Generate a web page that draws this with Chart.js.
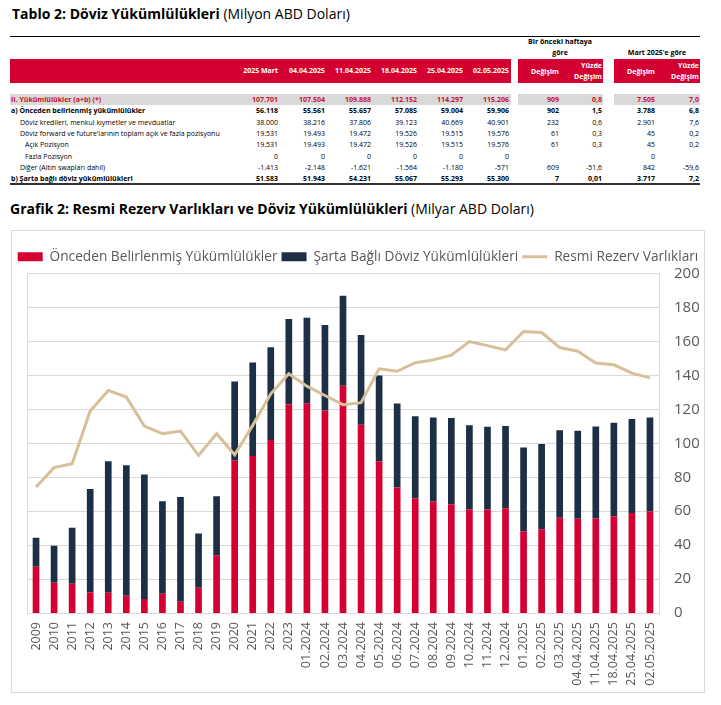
<!DOCTYPE html>
<html>
<head>
<meta charset="utf-8">
<script src="https://cdn.jsdelivr.net/npm/chart.js@4.4.1/dist/chart.umd.min.js"></script>
<style>
  html, body { margin: 0; padding: 0; background: #fff; }
  #page { position: relative; width: 721px; height: 705px; font-family: 'Open Sans', sans-serif; overflow: hidden; }
  .title { position: absolute; font-size: 14px; line-height: 18px; color: #000; white-space: nowrap; }
  .title b { font-weight: 700; }
  .cell { position: absolute; font-size: 7px; line-height: 12px; height: 12px; white-space: nowrap; color: #000; }
  .bg { position: absolute; }
  #box { position: absolute; left: 11px; top: 230px; width: 692px; height: 461px; border: 1px solid #d9d9d9; }
</style>
</head>
<body>
<div id="page">
  <div class="title" style="left:12px; top:5px;"><b>Tablo 2: Döviz Yükümlülükleri</b> (Milyon ABD Doları)</div>
  <div id="tbl"></div>
  <div class="title" style="left:10px; top:200px;"><b>Grafik 2: Resmi Rezerv Varlıkları ve Döviz Yükümlülükleri</b> (Milyar ABD Doları)</div>
  <div id="box"><canvas id="chart"></canvas></div>
</div>
<script>
// ---- Table data (Milyon ABD Doları) ----
const rowLabels = [
  'II. Yükümlülükler (a+b) (*)',
  'a) Önceden belirlenmiş yükümlülükler',
  'Döviz kredileri, menkul kıymetler ve mevduatlar',
  "Döviz forward ve future'larının toplam açık ve fazla pozisyonu",
  'Açık Pozisyon',
  'Fazla Pozisyon',
  'Diğer (Altın swapları dahil)',
  'b) Şarta bağlı döviz yükümlülükleri'
];
const dateHeaders = ['2025 Mart', '04.04.2025', '11.04.2025', '18.04.2025', '25.04.2025', '02.05.2025'];
const colMart   = ['107.701', '56.118', '38.000', '19.531', '19.531', '0', '-1.413', '51.583'];
const colApr04  = ['107.504', '55.561', '38.216', '19.493', '19.493', '0', '-2.148', '51.943'];
const colApr11  = ['109.888', '55.657', '37.806', '19.472', '19.472', '0', '-1.621', '54.231'];
const colApr18  = ['112.152', '57.085', '39.123', '19.526', '19.526', '0', '-1.564', '55.067'];
const colApr25  = ['114.297', '59.004', '40.669', '19.515', '19.515', '0', '-1.180', '55.293'];
const colMay02  = ['115.206', '59.906', '40.901', '19.576', '19.576', '0', '-571', '55.300'];
const weekChange = ['909', '902', '232', '61', '61', '', '609', '7'];
const weekPct    = ['0,8', '1,5', '0,6', '0,3', '0,3', '', '-51,6', '0,01'];
const martChange = ['7.505', '3.788', '2.901', '45', '45', '0', '842', '3.717'];
const martPct    = ['7,0', '6,8', '7,6', '0,2', '0,2', '', '-59,6', '7,2'];

// ---- Chart data (Milyar ABD Doları) ----
const categories = ['2009', '2010', '2011', '2012', '2013', '2014', '2015', '2016', '2017', '2018', '2019',
  '2020', '2021', '2022', '2023', '01.2024', '02.2024', '03.2024', '04.2024', '05.2024', '06.2024',
  '07.2024', '08.2024', '09.2024', '10.2024', '11.2024', '12.2024', '01.2025', '02.2025', '03.2025',
  '04.04.2025', '11.04.2025', '18.04.2025', '25.04.2025', '02.05.2025'];
const predetermined = [27.2, 17.8, 17.3, 12.2, 12.0, 10.2, 8.2, 11.4, 6.7, 14.9, 34.1,
  90.0, 92.5, 102.0, 123.0, 123.7, 119.4, 134.0, 111.0, 89.4, 74.0,
  67.6, 65.7, 64.1, 61.0, 61.0, 61.8, 48.2, 49.4, 56.1,
  55.6, 55.7, 57.1, 59.0, 59.9];
const contingent = [17.1, 21.8, 32.9, 60.9, 77.4, 76.9, 73.4, 54.5, 61.7, 32.0, 34.7,
  46.5, 55.1, 54.7, 50.3, 50.4, 50.4, 53.0, 52.9, 50.6, 49.5,
  48.4, 49.6, 50.8, 49.6, 48.8, 48.4, 49.4, 50.2, 51.6,
  51.9, 54.2, 55.1, 55.3, 55.3];
const reserves = [74.3, 85.7, 88.0, 119.0, 131.2, 127.3, 110.2, 105.7, 107.2, 92.9, 105.7,
  93.3, 110.6, 129.2, 141.0, 133.7, 128.2, 122.8, 124.0, 143.9, 142.5,
  147.5, 149.2, 152.0, 160.0, 157.6, 155.1, 165.9, 165.3, 156.5,
  154.3, 147.3, 146.3, 141.4, 138.6];
const yTicks = { min: 0, max: 200, step: 20 };

// ---- Table layout ----
const RED = '#d50032';
const valueCols = [colMart, colApr04, colApr11, colApr18, colApr25, colMay02, weekChange, weekPct, martChange, martPct];
const colRight = [278, 325, 371, 417, 463, 509, 559, 602, 655, 699];
const rowY = [100, 111.3, 122.6, 134, 145.3, 156.6, 168, 179.3];
const labelLeft = [11, 11, 20, 20, 25, 25, 20, 11];
const rowBold = [true, true, false, false, false, false, false, true];
const segments = [[10, 511], [518, 603], [614, 700]];

const tbl = document.getElementById('tbl');
function box(x1, y1, x2, y2, color) {
  const d = document.createElement('div');
  d.className = 'bg';
  d.style.cssText = `left:${x1}px;top:${y1}px;width:${x2 - x1}px;height:${y2 - y1}px;background:${color}`;
  tbl.appendChild(d);
}
function text(str, x, y, align, opts = {}) {
  const d = document.createElement('div');
  d.className = 'cell';
  d.textContent = str;
  const w = 260;
  let left = align === 'right' ? x - w : align === 'center' ? x - w / 2 : x;
  d.style.left = left + 'px';
  d.style.width = w + 'px';
  d.style.top = (y - 6) + 'px';
  d.style.textAlign = align;
  if (opts.bold) d.style.fontWeight = '700';
  if (opts.color) d.style.color = opts.color;
  tbl.appendChild(d);
}

box(10, 36, 700, 37, '#000');
segments.forEach(s => box(s[0], 59, s[1], 83, RED));
segments.forEach(s => box(s[0], 94, s[1], 105, '#d9d9d9'));
box(10, 183, 700, 185, '#333');

text('Bir önceki haftaya', 560, 42, 'center', { bold: true });
text('göre', 560, 53, 'center', { bold: true });
text("Mart 2025'e göre", 657, 53, 'center', { bold: true });

dateHeaders.forEach((h, i) => text(h, colRight[i], 71, 'right', { bold: true, color: '#fff' }));
[6, 8].forEach(i => text('Değişim', colRight[i], 72, 'right', { bold: true, color: '#fff' }));
[7, 9].forEach(i => {
  text('Yüzde', colRight[i], 66, 'right', { bold: true, color: '#fff' });
  text('Değişim', colRight[i], 77, 'right', { bold: true, color: '#fff' });
});

rowLabels.forEach((lab, r) => {
  const color = r === 0 ? '#c8102e' : '#000';
  text(lab, labelLeft[r], rowY[r], 'left', { bold: rowBold[r], color });
  valueCols.forEach((col, c) => {
    if (col[r] !== '') text(col[r], colRight[c], rowY[r], 'right', { bold: rowBold[r], color });
  });
});

// ---- Chart ----
Chart.defaults.font.family = "'Open Sans', sans-serif";
Chart.defaults.color = '#595959';

const GRID = '#d9d9d9';
new Chart(document.getElementById('chart'), {
  type: 'bar',
  data: {
    labels: categories,
    datasets: [
      {
        label: 'Önceden Belirlenmiş Yükümlülükler',
        data: predetermined,
        backgroundColor: RED,
        stack: 'liab',
        order: 1,
        categoryPercentage: 0.37,
        barPercentage: 1
      },
      {
        label: 'Şarta Bağlı Döviz Yükümlülükleri',
        data: contingent,
        backgroundColor: '#1c2f45',
        stack: 'liab',
        order: 1,
        categoryPercentage: 0.37,
        barPercentage: 1
      },
      {
        type: 'line',
        label: 'Resmi Rezerv Varlıkları',
        data: reserves,
        borderColor: '#d7c099',
        backgroundColor: '#d7c099',
        borderWidth: 3,
        pointRadius: 0,
        tension: 0,
        stack: 'res',
        order: 0
      }
    ]
  },
  options: {
    responsive: true,
    maintainAspectRatio: false,
    animation: false,
    layout: { padding: { top: 15, left: 0, right: 0, bottom: 0 } },
    plugins: {
      tooltip: { enabled: false },
      legend: {
        position: 'top',
        labels: {
          usePointStyle: true,
          pointStyleWidth: 25,
          boxHeight: 9,
          padding: 4,
          color: '#595959',
          font: { size: 13.7 },
          sort: (a, b) => a.datasetIndex - b.datasetIndex,
          generateLabels: chart => Chart.defaults.plugins.legend.labels.generateLabels(chart).map(l => ({
            ...l,
            pointStyle: l.datasetIndex === 2 ? 'line' : 'rect',
            lineWidth: l.datasetIndex === 2 ? 3 : 0
          }))
        }
      }
    },
    scales: {
      x: {
        stacked: true,
        grid: { display: false, drawTicks: false },
        border: { display: true, color: GRID },
        ticks: { autoSkip: false, minRotation: 90, maxRotation: 90, padding: 9, font: { size: 12.5 }, color: '#595959' },
        afterFit: s => { s.height = 79; }
      },
      yL: {
        type: 'linear',
        position: 'left',
        grid: { display: false, drawTicks: false },
        border: { display: true, color: GRID },
        ticks: { display: false },
        afterFit: s => { s.width = 15; }
      },
      y: {
        stacked: true,
        position: 'right',
        min: yTicks.min,
        max: yTicks.max,
        grid: { color: GRID, drawTicks: false },
        border: { display: true, color: GRID },
        ticks: { stepSize: yTicks.step, padding: 15, font: { size: 15 }, color: '#595959' },
        afterFit: s => { s.width = 45; }
      }
    }
  }
});
</script>
</body>
</html>
